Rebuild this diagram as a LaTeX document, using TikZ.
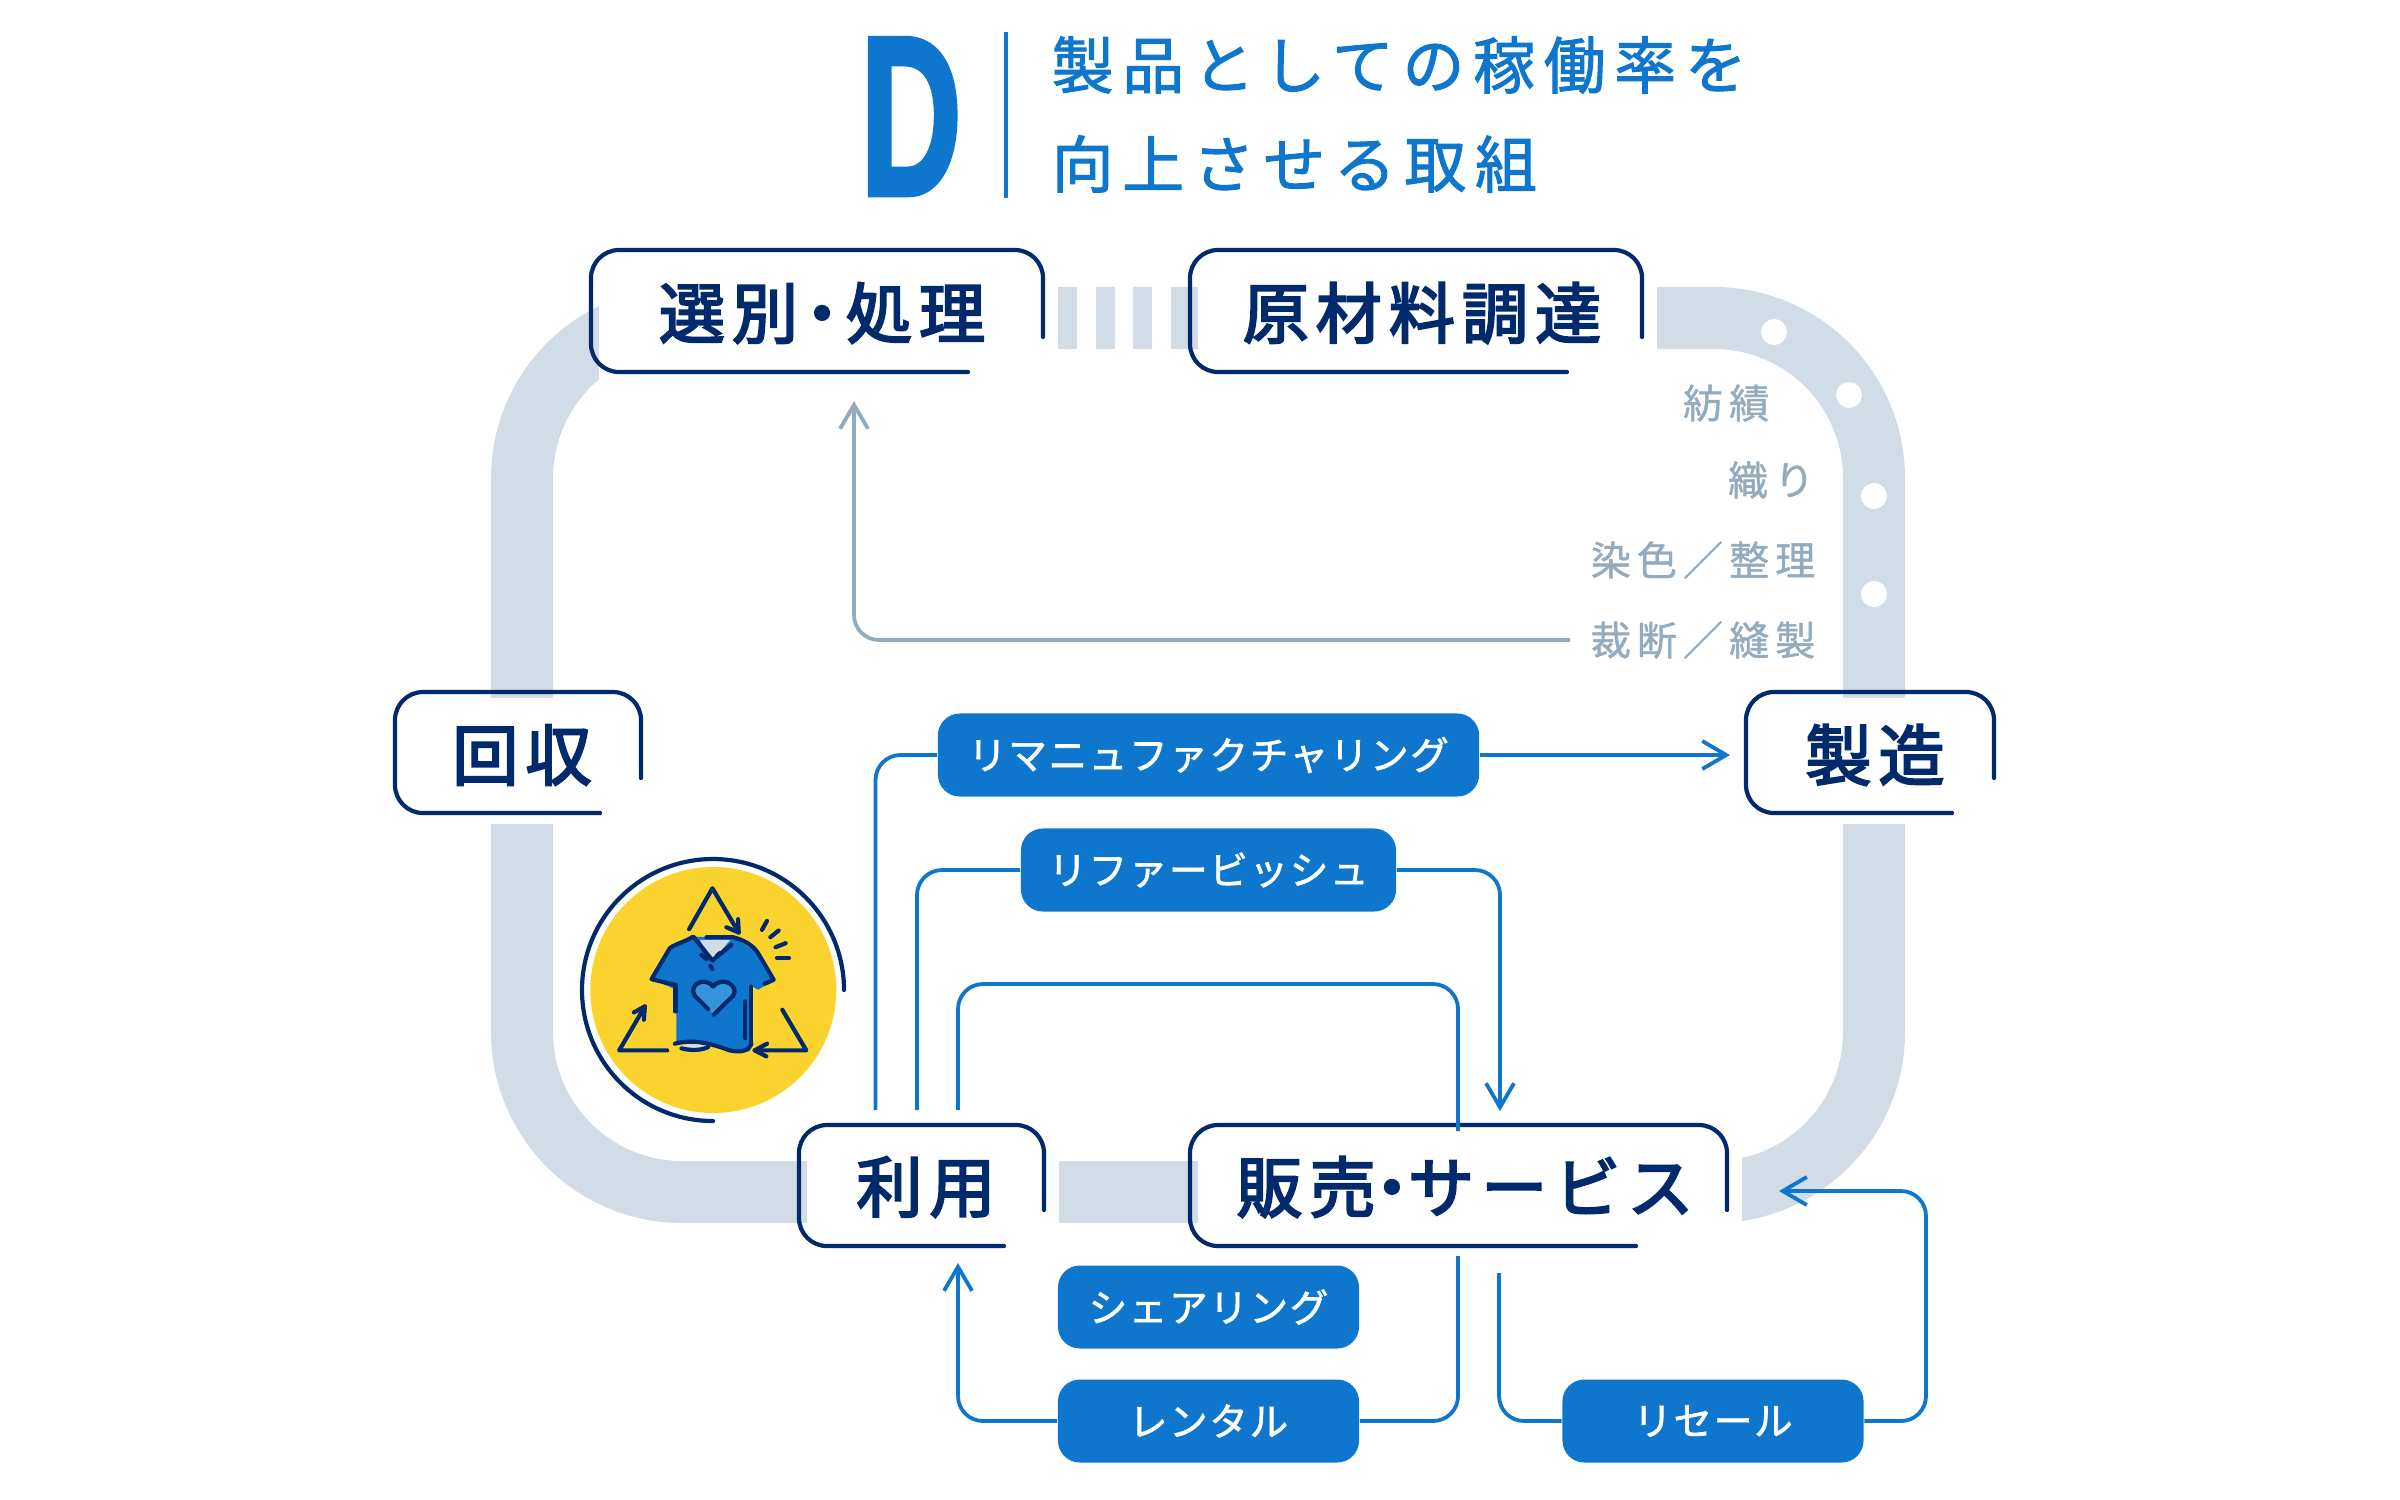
\documentclass[tikz,border=0pt]{standalone}
\usepackage{fontspec}
\usetikzlibrary{arrows.meta}
\setmainfont{Noto Sans CJK JP}
\newfontfamily\titlefont[LetterSpace=14,FakeBold=1.6]{Noto Sans CJK JP}
\newfontfamily\labelfont[LetterSpace=10.6,FakeBold=3.2]{Noto Sans CJK JP}
\newfontfamily\stepfont[LetterSpace=15,FakeBold=1]{Noto Sans CJK JP}
\newfontfamily\chipfont[LetterSpace=4,FakeBold=1.6]{Noto Sans CJK JP}
\newfontfamily\bigfont[FakeBold=2.4]{Liberation Sans Bold}
\definecolor{navy}{HTML}{002A6B}
\definecolor{ablue}{HTML}{0F76CE}
\definecolor{trackc}{HTML}{D2DCE7}
\definecolor{stepc}{HTML}{93ABBF}
\definecolor{sunc}{HTML}{FBD32F}
\definecolor{heartc}{HTML}{3594DC}
\tikzset{
    framelabel/.style={text=navy,inner sep=0pt,font=\fontsize{18.8pt}{22pt}\labelfont},
    frameline/.style={draw=navy,line width=.042cm,rounded corners=.28cm,line cap=round},
    chip/.style={fill=ablue,text=white,rounded corners=.22cm,inner sep=0pt,minimum height=.83cm,font=\fontsize{11pt}{13pt}\chipfont},
    stepnote/.style={text=stepc,inner sep=0pt,font=\fontsize{11.4pt}{14pt}\stepfont},
    flow/.style={draw=ablue,line width=.038cm,rounded corners=.25cm},
    flowarrow/.style={flow,-{Straight Barb[length=.24cm,width=.28cm,line width=.038cm]}},
    icon/.style={draw=navy,line width=.042cm,line cap=round,line join=round},
}
% outline open at the lower right, with the white patch that cuts the track
\newcommand{\labelframe}[6]{
    \fill[white] ({#1+8},{#2+6}) rectangle ({#3+15},{#4+11});
    \draw[frameline] (#3,#6) -- (#3,#2) -- (#1,#2) -- (#1,#4) -- (#5,#4);
}
\begin{document}
\begin{tikzpicture}[x=.01cm,y=-.01cm]
    \useasboundingbox (0,0) rectangle (2400,1499);
    % track
    \draw[trackc,line width=.62cm,rounded corners=1.6cm] (522,318) rectangle (1874,1192);
    \fill[white] (1050,280) rectangle (1190,356);
    \foreach \x in {1058,1096,1133,1171}
        \fill[trackc] (\x,287) rectangle (\x+19,349);
    \foreach \x/\y in {1774/332,1849/395,1874/496,1874/594}
        \fill[white] (\x,\y) circle (13);
    % frames
    \labelframe{591}{250}{1043}{372}{968}{337}
    \labelframe{1190}{250}{1642}{372}{1567}{337}
    \labelframe{395}{692}{641}{813}{600}{778}
    \labelframe{1746}{692}{1994}{813}{1952}{778}
    \labelframe{799}{1125}{1044}{1246}{1004}{1210}
    \labelframe{1190}{1125}{1727}{1246}{1636}{1210}
    \node[framelabel] (sorting) at (822,313) {選別\kern-2.6pt・\kern-2.6pt処理};
    \node[framelabel] (material) at (1422,313) {原材料調達};
    \node[framelabel] (collect) at (522,755) {回収};
    \node[framelabel] (making) at (1875,755) {製造};
    \node[framelabel] (use) at (926,1187) {利用};
    \node[framelabel] (sales) at (1465,1187) {販売\kern-4.8pt・\kern-4.8ptサービス};
    % title
    \node[text=ablue,inner sep=0pt,xscale=.62,font=\fontsize{64.5pt}{70pt}\bigfont] (letter) at (911,116.5) {D};
    \coordinate (bar1) at (1006,32);
    \coordinate (bar2) at (1006,198);
    \draw[ablue,line width=.035cm] (bar1) -- (bar2);
    \node[text=ablue,inner sep=0pt,anchor=west,font=\fontsize{17.6pt}{20pt}\titlefont] (title1) at (1051,65) {製品としての稼働率を};
    \node[text=ablue,inner sep=0pt,anchor=west,font=\fontsize{17.6pt}{20pt}\titlefont] (title2) at (1051,164) {向上させる取組};
    % process steps
    \node[stepnote,anchor=east] (spin) at (1770,403) {紡績};
    \node[stepnote,anchor=east] (weave) at (1815,480) {織り};
    \node[stepnote,anchor=east] (dye) at (1816,560) {染色／整理};
    \node[stepnote,anchor=east] (cut) at (1816,640) {裁断／縫製};
    \coordinate (sortin) at (854,401);
    \draw[flowarrow,draw=stepc] (cut.west) ++(-20,0) -| (sortin);
    % chips
    \node[chip,minimum width=5.41cm] (reman) at (1208.5,755) {リマニュファクチャリング};
    \node[chip,minimum width=3.75cm] (refurb) at (1208.5,870) {リファービッシュ};
    \node[chip,minimum width=3.01cm] (share) at (1208.5,1307) {シェアリング};
    \node[chip,minimum width=3.01cm] (rental) at (1208.5,1421) {レンタル};
    \node[chip,minimum width=3.01cm] (resale) at (1713,1421) {リセール};
    % connectors
    \coordinate (usea) at (875.5,1110);
    \coordinate (useb) at (917,1110);
    \coordinate (usec) at (958,1110);
    \coordinate (makein) at (1730,755);
    \coordinate (salesin) at (1500,1111);
    \coordinate (salestop) at (1458,1131);
    \coordinate (salesbot) at (1458,1256);
    \coordinate (usein) at (958,1263);
    \coordinate (salesout) at (1499,1273);
    \coordinate (salesback) at (1779,1191);
    \draw[flow] (usea) |- (reman.west);
    \draw[flowarrow] (reman.east) -- (makein);
    \draw[flow] (useb) |- (refurb.west);
    \draw[flowarrow] (refurb.east) -| (salesin);
    \draw[flow] (usec) |- (1458,984) -- (salestop);
    \draw[flow] (salesbot) |- (rental.east);
    \draw[flowarrow] (rental.west) -| (usein);
    \draw[flow] (salesout) |- (resale.west);
    \draw[flowarrow] (resale.east) -| (1926,1191) -- (salesback);
    % icon
    \fill[sunc] (713.3,990) circle (123);
    \draw[navy,line width=.042cm,line cap=round] (844,990) arc[start angle=0,end angle=-270,radius=131];
    \begin{scope}[shift={(560,840)},x=.003333cm,y=-.003333cm]
        \fill[ablue] (400,290) -- (335,315) -- (275,418) -- (350,450) -- (350,610) -- (400,640) -- (570,635) -- (578,440) -- (595,450) -- (645,420) -- (590,335) -- (520,292) -- (440,292) -- cycle;
        \fill[sunc] (340,612) .. controls (400,590) and (450,610) .. (510,637) -- (340,650) -- cycle;
        \fill[ablue] (345,612) .. controls (400,598) and (450,610) .. (510,632) .. controls (545,640) and (570,632) .. (575,612) -- cycle;
        \fill[trackc] (420,300) -- (512,300) -- (458,362) -- cycle;
        \draw[icon,fill=trackc,line width=.02cm,draw=trackc] (405,624) ellipse (42 and 9);
        \fill[heartc] (462,525) -- (405,468) .. controls (385,440) and (430,405) .. (460,440) .. controls (490,405) and (540,440) .. (520,468) -- cycle;
        \draw[icon] (445,508) -- (405,468) .. controls (385,440) and (430,405) .. (460,440) .. controls (490,405) and (540,440) .. (520,468) -- (462,525);
        \draw[icon] (388,268) -- (458,145) -- (537,278);
        \draw[icon] (500,262) -- (537,278) -- (535,238);
        \draw[icon] (668,510) -- (740,632) -- (585,632);
        \draw[icon] (622,612) -- (585,632) -- (620,650);
        \draw[icon] (322,632) -- (178,632) -- (255,500);
        \draw[icon] (222,518) -- (255,500) -- (252,540);
        \draw[icon] (607,270) -- (622,243);
        \draw[icon] (632,292) -- (657,272);
        \draw[icon] (648,322) -- (678,310);
        \draw[icon] (652,354) -- (688,354);
        \draw[icon] (345,435) -- (275,418) -- (330,325) .. controls (350,310) and (380,305) .. (400,290) -- (458,362) -- (515,315);
        \draw[icon] (440,292) -- (520,292) .. controls (550,300) and (580,315) .. (595,340) -- (642,420) -- (615,432);
        \draw[icon] (347,435) -- (347,515);
        \draw[icon] (575,440) -- (575,615);
        \draw[icon] (557,485) -- (557,595);
        \draw[icon] (345,612) .. controls (400,598) and (450,610) .. (510,632) .. controls (545,640) and (570,632) .. (575,612);
        \draw[icon] (365,626) .. controls (400,635) and (430,630) .. (445,622);
        \draw[icon] (425,345) -- (440,358);
        \draw[icon] (452,378) -- (458,388);
        \draw[icon] (470,350) -- (480,340);
    \end{scope}
\end{tikzpicture}
\end{document}
